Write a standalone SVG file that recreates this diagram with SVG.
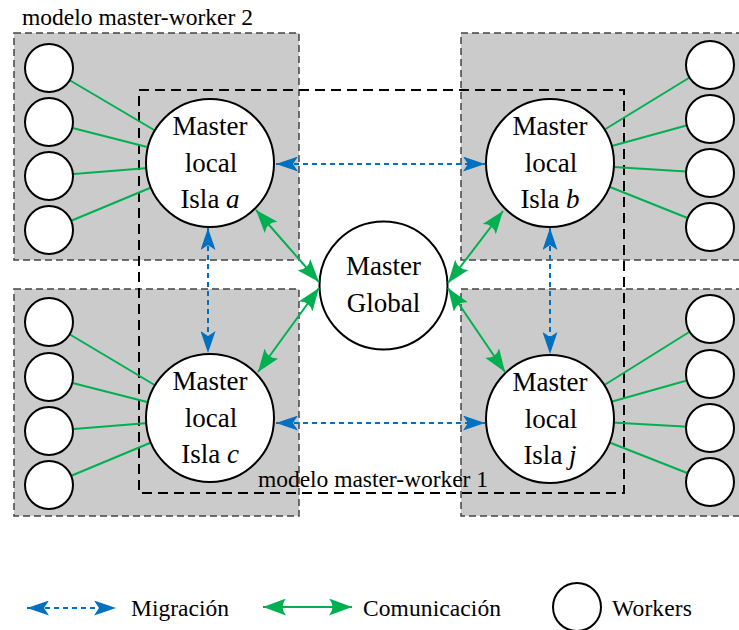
<svg xmlns="http://www.w3.org/2000/svg" width="739" height="630" viewBox="0 0 739 630">
<style>
.box{fill:#cbcbcb;stroke:#444;stroke-width:1.5;stroke-dasharray:7,4}
.inner{fill:none;stroke:#000;stroke-width:2;stroke-dasharray:10,6}
.wl{stroke:#00b050;stroke-width:2;fill:none}
.node{fill:#fff;stroke:#000;stroke-width:2}
.mig{stroke:#0070c0;stroke-width:2;stroke-dasharray:5,4;fill:none;marker-start:url(#ab);marker-end:url(#ab)}
.com{stroke:#00b050;stroke-width:2;fill:none;marker-start:url(#ag);marker-end:url(#ag)}
.lbl{font-family:"Liberation Serif","Times New Roman",serif;font-size:27px;fill:#000;text-anchor:middle}
.cap{font-family:"Liberation Serif","Times New Roman",serif;font-size:23.5px;fill:#000}
</style>
<defs>
<marker id="ab" viewBox="0 0 22 15" refX="22" refY="7.5" markerWidth="22" markerHeight="15" markerUnits="userSpaceOnUse" orient="auto-start-reverse"><path d="M0,0 L22,7.5 L0,15 L5,7.5 Z" fill="#0070c0"/></marker>
<marker id="ag" viewBox="0 0 23 17" refX="23" refY="8.5" markerWidth="23" markerHeight="17" markerUnits="userSpaceOnUse" orient="auto-start-reverse"><path d="M0,0 L23,8.5 L0,17 Q7,8.5 0,0 Z" fill="#00b050"/></marker>
</defs>

<g id="groups">
<rect class="box" x="14" y="33" width="285" height="227"/>
<rect class="box" x="461" y="33" width="290" height="227"/>
<rect class="box" x="14" y="289" width="285" height="227"/>
<rect class="box" x="461" y="289" width="290" height="227"/>
<rect class="inner" x="139" y="90" width="485" height="403"/>
<text class="cap" x="22" y="25" textLength="231">modelo master-worker 2</text>
<text class="cap" x="258" y="487" textLength="230">modelo master-worker 1</text>
</g>

<g id="connectors">
<line class="wl" x1="49" y1="68" x2="210" y2="163"/>
<line class="wl" x1="49" y1="122" x2="210" y2="163"/>
<line class="wl" x1="49" y1="176" x2="210" y2="163"/>
<line class="wl" x1="49" y1="230" x2="210" y2="163"/>
<line class="wl" x1="49" y1="322" x2="210" y2="418"/>
<line class="wl" x1="49" y1="377" x2="210" y2="418"/>
<line class="wl" x1="49" y1="431" x2="210" y2="418"/>
<line class="wl" x1="49" y1="485" x2="210" y2="418"/>
<line class="wl" x1="710" y1="65" x2="550" y2="163"/>
<line class="wl" x1="710" y1="119" x2="550" y2="163"/>
<line class="wl" x1="710" y1="173" x2="550" y2="163"/>
<line class="wl" x1="710" y1="227" x2="550" y2="163"/>
<line class="wl" x1="710" y1="319" x2="550" y2="419"/>
<line class="wl" x1="710" y1="374" x2="550" y2="419"/>
<line class="wl" x1="710" y1="428" x2="550" y2="419"/>
<line class="wl" x1="710" y1="482" x2="550" y2="419"/>
</g>

<g id="workers">
<circle class="node" cx="49" cy="68" r="24"/>
<circle class="node" cx="49" cy="122" r="24"/>
<circle class="node" cx="49" cy="176" r="24"/>
<circle class="node" cx="49" cy="230" r="24"/>
<circle class="node" cx="49" cy="322" r="24"/>
<circle class="node" cx="49" cy="377" r="24"/>
<circle class="node" cx="49" cy="431" r="24"/>
<circle class="node" cx="49" cy="485" r="24"/>
<circle class="node" cx="710" cy="65" r="24"/>
<circle class="node" cx="710" cy="119" r="24"/>
<circle class="node" cx="710" cy="173" r="24"/>
<circle class="node" cx="710" cy="227" r="24"/>
<circle class="node" cx="710" cy="319" r="24"/>
<circle class="node" cx="710" cy="374" r="24"/>
<circle class="node" cx="710" cy="428" r="24"/>
<circle class="node" cx="710" cy="482" r="24"/>
</g>

<g id="master-a">
<circle class="node" cx="210" cy="163" r="64"/>
<text class="lbl" x="210" y="135">Master</text>
<text class="lbl" x="211" y="172">local</text>
<text class="lbl" x="210" y="208">Isla <tspan font-style="italic">a</tspan></text>
</g>
<g id="master-b">
<circle class="node" cx="550" cy="163" r="64"/>
<text class="lbl" x="550" y="135">Master</text>
<text class="lbl" x="551" y="172">local</text>
<text class="lbl" x="550" y="208">Isla <tspan font-style="italic">b</tspan></text>
</g>
<g id="master-c">
<circle class="node" cx="210" cy="418" r="64"/>
<text class="lbl" x="210" y="390">Master</text>
<text class="lbl" x="211" y="427">local</text>
<text class="lbl" x="210" y="463">Isla <tspan font-style="italic">c</tspan></text>
</g>
<g id="master-j">
<circle class="node" cx="550" cy="419" r="64"/>
<text class="lbl" x="550" y="391">Master</text>
<text class="lbl" x="551" y="428">local</text>
<text class="lbl" x="550" y="464">Isla <tspan font-style="italic">j</tspan></text>
</g>
<g id="master-global">
<circle class="node" cx="383.5" cy="285.5" r="64"/>
<text class="lbl" x="383.5" y="275">Master</text>
<text class="lbl" x="383.5" y="312">Global</text>
</g>

<g id="arrows">
<line class="mig" x1="276" y1="164" x2="485" y2="164"/>
<line class="mig" x1="276" y1="423" x2="485" y2="423"/>
<line class="mig" x1="208" y1="228" x2="208" y2="353"/>
<line class="mig" x1="550" y1="228" x2="550" y2="354"/>
<line class="com" x1="256" y1="210" x2="319" y2="282"/>
<line class="com" x1="258" y1="372" x2="319" y2="288"/>
<line class="com" x1="503" y1="211" x2="448" y2="283"/>
<line class="com" x1="505" y1="372" x2="448" y2="288"/>
</g>

<g id="legend">
<line class="mig" x1="27" y1="608" x2="116" y2="608"/>
<text class="cap" x="131" y="616" textLength="98">Migración</text>
<line class="com" x1="263" y1="607" x2="352" y2="607"/>
<text class="cap" x="363" y="616" textLength="138">Comunicación</text>
<circle class="node" cx="577" cy="607" r="24"/>
<text class="cap" x="612" y="616" textLength="80">Workers</text>
</g>
</svg>
